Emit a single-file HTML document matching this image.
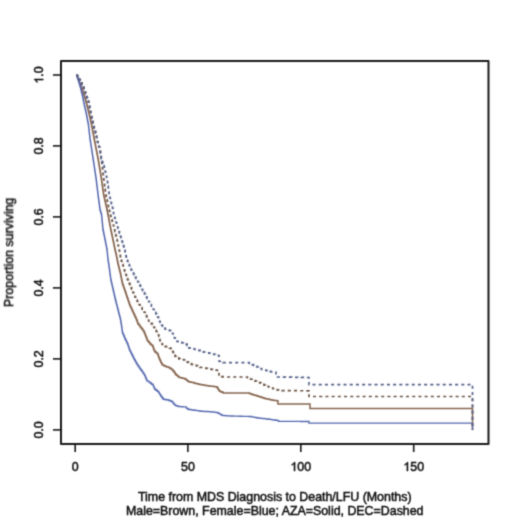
<!DOCTYPE html>
<html><head><meta charset="utf-8"><style>
html,body{margin:0;padding:0;background:#fff;width:520px;height:520px;overflow:hidden}
svg{display:block}
text{font-family:"Liberation Sans",sans-serif;font-size:12.4px;fill:#111;stroke:#111;stroke-width:0.5px}
</style></head><body>
<svg width="520" height="520" viewBox="0 0 520 520">
<defs><filter id="b" x="0" y="0" width="520" height="520" filterUnits="userSpaceOnUse"><feConvolveMatrix order="3" kernelMatrix="1 4 1 4 16 4 1 4 1" divisor="36" edgeMode="none"/></filter></defs>
<rect width="520" height="520" fill="#fff"/>
<g filter="url(#b)">
<path d="M76.50,75.00 L77.05,75.00 L77.05,76.50 L77.60,76.50 L77.60,78.00 L78.15,78.00 L78.15,79.50 L78.70,79.50 L78.70,81.00 L79.20,81.00 L79.20,82.28 L79.70,82.28 L79.70,83.56 L80.20,83.56 L80.20,84.84 L80.70,84.84 L80.70,86.12 L81.20,86.12 L81.20,87.40 L81.75,87.40 L81.75,89.00 L82.30,89.00 L82.30,90.60 L82.85,90.60 L82.85,92.20 L83.40,92.20 L83.40,93.80 L83.95,93.80 L83.95,95.40 L84.50,95.40 L84.50,97.00 L84.96,97.00 L84.96,98.60 L85.42,98.60 L85.42,100.20 L85.88,100.20 L85.88,101.80 L86.34,101.80 L86.34,103.40 L86.80,103.40 L86.80,105.00 L87.16,105.00 L87.16,106.43 L87.51,106.43 L87.51,107.86 L87.87,107.86 L87.87,109.29 L88.23,109.29 L88.23,110.71 L88.59,110.71 L88.59,112.14 L88.94,112.14 L88.94,113.57 L89.30,113.57 L89.30,115.00 L89.61,115.00 L89.61,116.43 L89.93,116.43 L89.93,117.86 L90.24,117.86 L90.24,119.29 L90.56,119.29 L90.56,120.71 L90.87,120.71 L90.87,122.14 L91.19,122.14 L91.19,123.57 L91.50,123.57 L91.50,125.00 L91.78,125.00 L91.78,126.50 L92.06,126.50 L92.06,128.00 L92.34,128.00 L92.34,129.50 L92.62,129.50 L92.62,131.00 L92.90,131.00 L92.90,132.50 L93.18,132.50 L93.18,134.00 L93.46,134.00 L93.46,135.50 L93.74,135.50 L93.74,137.00 L94.02,137.00 L94.02,138.50 L94.30,138.50 L94.30,140.00 L94.60,140.00 L94.60,141.54 L94.90,141.54 L94.90,143.08 L95.20,143.08 L95.20,144.62 L95.50,144.62 L95.50,146.15 L95.80,146.15 L95.80,147.69 L96.10,147.69 L96.10,149.23 L96.40,149.23 L96.40,150.77 L96.70,150.77 L96.70,152.31 L97.00,152.31 L97.00,153.85 L97.30,153.85 L97.30,155.38 L97.60,155.38 L97.60,156.92 L97.90,156.92 L97.90,158.46 L98.20,158.46 L98.20,160.00 L98.45,160.00 L98.45,161.50 L98.70,161.50 L98.70,163.00 L98.95,163.00 L98.95,164.50 L99.20,164.50 L99.20,166.00 L99.45,166.00 L99.45,167.50 L99.70,167.50 L99.70,169.00 L99.95,169.00 L99.95,170.50 L100.20,170.50 L100.20,172.00 L100.45,172.00 L100.45,173.50 L100.70,173.50 L100.70,175.00 L100.90,175.00 L100.90,176.25 L101.10,176.25 L101.10,177.50 L101.30,177.50 L101.30,178.75 L101.50,178.75 L101.50,180.00 L101.71,180.00 L101.71,181.50 L101.92,181.50 L101.92,183.00 L102.13,183.00 L102.13,184.50 L102.34,184.50 L102.34,186.00 L102.55,186.00 L102.55,187.50 L102.76,187.50 L102.76,189.00 L102.97,189.00 L102.97,190.50 L103.18,190.50 L103.18,192.00 L103.39,192.00 L103.39,193.50 L103.60,193.50 L103.60,195.00 L103.94,195.00 L103.94,196.50 L104.28,196.50 L104.28,198.00 L104.62,198.00 L104.62,199.50 L104.96,199.50 L104.96,201.00 L105.30,201.00 L105.30,202.50 L105.64,202.50 L105.64,204.00 L105.98,204.00 L105.98,205.50 L106.32,205.50 L106.32,207.00 L106.66,207.00 L106.66,208.50 L107.00,208.50 L107.00,210.00 L107.25,210.00 L107.25,211.25 L107.50,211.25 L107.50,212.50 L107.75,212.50 L107.75,213.75 L108.00,213.75 L108.00,215.00 L108.28,215.00 L108.28,216.50 L108.56,216.50 L108.56,218.00 L108.84,218.00 L108.84,219.50 L109.12,219.50 L109.12,221.00 L109.40,221.00 L109.40,222.50 L109.68,222.50 L109.68,224.00 L109.96,224.00 L109.96,225.50 L110.24,225.50 L110.24,227.00 L110.52,227.00 L110.52,228.50 L110.80,228.50 L110.80,230.00 L111.12,230.00 L111.12,231.54 L111.45,231.54 L111.45,233.08 L111.77,233.08 L111.77,234.62 L112.09,234.62 L112.09,236.15 L112.42,236.15 L112.42,237.69 L112.74,237.69 L112.74,239.23 L113.06,239.23 L113.06,240.77 L113.38,240.77 L113.38,242.31 L113.71,242.31 L113.71,243.85 L114.03,243.85 L114.03,245.38 L114.35,245.38 L114.35,246.92 L114.68,246.92 L114.68,248.46 L115.00,248.46 L115.00,250.00 L115.30,250.00 L115.30,251.25 L115.60,251.25 L115.60,252.50 L115.90,252.50 L115.90,253.75 L116.20,253.75 L116.20,255.00 L116.47,255.00 L116.47,256.37 L116.74,256.37 L116.74,257.74 L117.01,257.74 L117.01,259.11 L117.29,259.11 L117.29,260.49 L117.56,260.49 L117.56,261.86 L117.83,261.86 L117.83,263.23 L118.10,263.23 L118.10,264.60 L118.50,264.60 L118.50,266.20 L118.90,266.20 L118.90,267.80 L119.30,267.80 L119.30,269.40 L119.70,269.40 L119.70,271.00 L120.10,271.00 L120.10,272.60 L120.50,272.60 L120.50,274.20 L120.77,274.20 L120.77,275.57 L121.04,275.57 L121.04,276.94 L121.31,276.94 L121.31,278.31 L121.59,278.31 L121.59,279.69 L121.86,279.69 L121.86,281.06 L122.13,281.06 L122.13,282.43 L122.40,282.43 L122.40,283.80 L122.89,283.80 L122.89,285.19 L123.37,285.19 L123.37,286.57 L123.86,286.57 L123.86,287.96 L124.34,287.96 L124.34,289.34 L124.83,289.34 L124.83,290.73 L125.31,290.73 L125.31,292.11 L125.80,292.11 L125.80,293.50 L126.27,293.50 L126.27,294.94 L126.75,294.94 L126.75,296.38 L127.22,296.38 L127.22,297.81 L127.70,297.81 L127.70,299.25 L128.17,299.25 L128.17,300.69 L128.65,300.69 L128.65,302.12 L129.12,302.12 L129.12,303.56 L129.60,303.56 L129.60,305.00 L130.29,305.00 L130.29,306.50 L130.98,306.50 L130.98,308.00 L131.67,308.00 L131.67,309.50 L132.36,309.50 L132.36,311.00 L133.05,311.00 L133.05,312.50 L133.74,312.50 L133.74,314.00 L134.43,314.00 L134.43,315.50 L135.12,315.50 L135.12,317.00 L135.81,317.00 L135.81,318.50 L136.50,318.50 L136.50,320.00 L137.00,320.00 L137.00,321.33 L137.50,321.33 L137.50,322.67 L138.00,322.67 L138.00,324.00 L139.00,324.00 L139.00,325.33 L140.00,325.33 L140.00,326.67 L141.00,326.67 L141.00,328.00 L142.00,328.00 L142.00,329.33 L143.00,329.33 L143.00,330.67 L144.00,330.67 L144.00,332.00 L144.50,332.00 L144.50,333.25 L145.00,333.25 L145.00,334.50 L145.50,334.50 L145.50,335.75 L146.00,335.75 L146.00,337.00 L146.50,337.00 L146.50,338.33 L147.00,338.33 L147.00,339.67 L147.50,339.67 L147.50,341.00 L148.75,341.00 L148.75,342.50 L150.00,342.50 L150.00,344.00 L151.25,344.00 L151.25,345.00 L152.50,345.00 L152.50,346.00 L153.00,346.00 L153.00,347.33 L153.50,347.33 L153.50,348.67 L154.00,348.67 L154.00,350.00 L154.50,350.00 L154.50,351.00 L155.00,351.00 L155.00,352.00 L156.25,352.00 L156.25,353.00 L157.50,353.00 L157.50,354.00 L158.00,354.00 L158.00,355.33 L158.50,355.33 L158.50,356.67 L159.00,356.67 L159.00,358.00 L159.50,358.00 L159.50,359.17 L160.00,359.17 L160.00,360.33 L160.50,360.33 L160.50,361.50 L161.10,361.50 L161.10,362.63 L161.70,362.63 L161.70,363.77 L162.30,363.77 L162.30,364.90 L163.85,364.90 L163.85,365.70 L165.40,365.70 L165.40,366.50 L166.95,366.50 L166.95,367.05 L168.50,367.05 L168.50,367.60 L170.00,367.60 L170.00,368.55 L171.50,368.55 L171.50,369.50 L172.85,369.50 L172.85,371.05 L174.20,371.05 L174.20,372.60 L175.20,372.60 L175.20,373.95 L176.20,373.95 L176.20,375.30 L177.70,375.30 L177.70,376.45 L179.20,376.45 L179.20,377.60 L180.73,377.60 L180.73,377.87 L182.27,377.87 L182.27,378.13 L183.80,378.13 L183.80,378.40 L185.15,378.40 L185.15,379.35 L186.50,379.35 L186.50,380.30 L187.50,380.30 L187.50,381.05 L188.50,381.05 L188.50,381.80 L189.77,381.80 L189.77,382.07 L191.03,382.07 L191.03,382.33 L192.30,382.33 L192.30,382.60 L193.83,382.60 L193.83,383.00 L195.37,383.00 L195.37,383.40 L196.90,383.40 L196.90,383.80 L198.45,383.80 L198.45,384.20 L200.00,384.20 L200.00,384.60 L201.45,384.60 L201.45,384.85 L202.90,384.85 L202.90,385.10 L204.35,385.10 L204.35,385.35 L205.80,385.35 L205.80,385.60 L207.33,385.60 L207.33,385.79 L208.86,385.79 L208.86,385.97 L210.39,385.97 L210.39,386.16 L211.91,386.16 L211.91,386.34 L213.44,386.34 L213.44,386.53 L214.97,386.53 L214.97,386.71 L216.50,386.71 L216.50,386.90 L217.40,386.90 L217.40,388.27 L218.30,388.27 L218.30,389.63 L219.20,389.63 L219.20,391.00 L220.57,391.00 L220.57,391.67 L221.93,391.67 L221.93,392.33 L223.30,392.33 L223.30,393.00 L248.00,393.00 L249.33,393.00 L249.33,393.47 L250.67,393.47 L250.67,393.93 L252.00,393.93 L252.00,394.40 L253.43,394.40 L253.43,394.88 L254.85,394.88 L254.85,395.35 L256.27,395.35 L256.27,395.82 L257.70,395.82 L257.70,396.30 L259.24,396.30 L259.24,396.80 L260.78,396.80 L260.78,397.30 L262.32,397.30 L262.32,397.80 L263.86,397.80 L263.86,398.30 L265.40,398.30 L265.40,398.80 L266.92,398.80 L266.92,399.08 L268.44,399.08 L268.44,399.36 L269.96,399.36 L269.96,399.64 L271.48,399.64 L271.48,399.92 L273.00,399.92 L273.00,400.20 L274.23,400.20 L274.23,400.40 L275.45,400.40 L275.45,400.60 L276.67,400.60 L276.67,400.80 L277.90,400.80 L277.90,401.00 L277.90,404.00 L310.00,404.00 L310.00,408.50 L472.50,408.50 L472.50,430.00" fill="none" stroke="#86654f" stroke-width="1.5"/>
<path d="M76.50,75.00 L77.00,75.00 L77.00,76.50 L77.50,76.50 L77.50,78.00 L78.00,78.00 L78.00,79.50 L78.50,79.50 L78.50,81.00 L78.86,81.00 L78.86,82.28 L79.22,82.28 L79.22,83.56 L79.58,83.56 L79.58,84.84 L79.94,84.84 L79.94,86.12 L80.30,86.12 L80.30,87.40 L80.68,87.40 L80.68,89.00 L81.07,89.00 L81.07,90.60 L81.45,90.60 L81.45,92.20 L81.83,92.20 L81.83,93.80 L82.22,93.80 L82.22,95.40 L82.60,95.40 L82.60,97.00 L82.92,97.00 L82.92,98.60 L83.24,98.60 L83.24,100.20 L83.56,100.20 L83.56,101.80 L83.88,101.80 L83.88,103.40 L84.20,103.40 L84.20,105.00 L84.53,105.00 L84.53,106.43 L84.86,106.43 L84.86,107.86 L85.19,107.86 L85.19,109.29 L85.51,109.29 L85.51,110.71 L85.84,110.71 L85.84,112.14 L86.17,112.14 L86.17,113.57 L86.50,113.57 L86.50,115.00 L86.72,115.00 L86.72,116.25 L86.95,116.25 L86.95,117.50 L87.18,117.50 L87.18,118.75 L87.40,118.75 L87.40,120.00 L87.65,120.00 L87.65,121.25 L87.90,121.25 L87.90,122.50 L88.15,122.50 L88.15,123.75 L88.40,123.75 L88.40,125.00 L88.57,125.00 L88.57,126.50 L88.74,126.50 L88.74,128.00 L88.91,128.00 L88.91,129.50 L89.08,129.50 L89.08,131.00 L89.25,131.00 L89.25,132.50 L89.42,132.50 L89.42,134.00 L89.59,134.00 L89.59,135.50 L89.76,135.50 L89.76,137.00 L89.93,137.00 L89.93,138.50 L90.10,138.50 L90.10,140.00 L90.34,140.00 L90.34,141.54 L90.58,141.54 L90.58,143.08 L90.82,143.08 L90.82,144.62 L91.05,144.62 L91.05,146.15 L91.29,146.15 L91.29,147.69 L91.53,147.69 L91.53,149.23 L91.77,149.23 L91.77,150.77 L92.01,150.77 L92.01,152.31 L92.25,152.31 L92.25,153.85 L92.48,153.85 L92.48,155.38 L92.72,155.38 L92.72,156.92 L92.96,156.92 L92.96,158.46 L93.20,158.46 L93.20,160.00 L93.43,160.00 L93.43,161.54 L93.66,161.54 L93.66,163.08 L93.89,163.08 L93.89,164.62 L94.12,164.62 L94.12,166.15 L94.35,166.15 L94.35,167.69 L94.58,167.69 L94.58,169.23 L94.82,169.23 L94.82,170.77 L95.05,170.77 L95.05,172.31 L95.28,172.31 L95.28,173.85 L95.51,173.85 L95.51,175.38 L95.74,175.38 L95.74,176.92 L95.97,176.92 L95.97,178.46 L96.20,178.46 L96.20,180.00 L96.38,180.00 L96.38,181.50 L96.56,181.50 L96.56,183.00 L96.74,183.00 L96.74,184.50 L96.92,184.50 L96.92,186.00 L97.10,186.00 L97.10,187.50 L97.28,187.50 L97.28,189.00 L97.46,189.00 L97.46,190.50 L97.64,190.50 L97.64,192.00 L97.82,192.00 L97.82,193.50 L98.00,193.50 L98.00,195.00 L98.20,195.00 L98.20,196.50 L98.40,196.50 L98.40,198.00 L98.60,198.00 L98.60,199.50 L98.80,199.50 L98.80,201.00 L99.00,201.00 L99.00,202.50 L99.20,202.50 L99.20,204.00 L99.40,204.00 L99.40,205.50 L99.60,205.50 L99.60,207.00 L99.80,207.00 L99.80,208.50 L100.00,208.50 L100.00,210.00 L100.38,210.00 L100.38,211.25 L100.75,211.25 L100.75,212.50 L101.12,212.50 L101.12,213.75 L101.50,213.75 L101.50,215.00 L101.65,215.00 L101.65,216.50 L101.80,216.50 L101.80,218.00 L101.95,218.00 L101.95,219.50 L102.10,219.50 L102.10,221.00 L102.25,221.00 L102.25,222.50 L102.40,222.50 L102.40,224.00 L102.55,224.00 L102.55,225.50 L102.70,225.50 L102.70,227.00 L102.85,227.00 L102.85,228.50 L103.00,228.50 L103.00,230.00 L103.31,230.00 L103.31,231.54 L103.62,231.54 L103.62,233.08 L103.92,233.08 L103.92,234.62 L104.23,234.62 L104.23,236.15 L104.54,236.15 L104.54,237.69 L104.85,237.69 L104.85,239.23 L105.15,239.23 L105.15,240.77 L105.46,240.77 L105.46,242.31 L105.77,242.31 L105.77,243.85 L106.08,243.85 L106.08,245.38 L106.38,245.38 L106.38,246.92 L106.69,246.92 L106.69,248.46 L107.00,248.46 L107.00,250.00 L107.14,250.00 L107.14,251.43 L107.29,251.43 L107.29,252.86 L107.43,252.86 L107.43,254.29 L107.57,254.29 L107.57,255.71 L107.71,255.71 L107.71,257.14 L107.86,257.14 L107.86,258.57 L108.00,258.57 L108.00,260.00 L108.21,260.00 L108.21,261.43 L108.43,261.43 L108.43,262.86 L108.64,262.86 L108.64,264.29 L108.86,264.29 L108.86,265.71 L109.07,265.71 L109.07,267.14 L109.29,267.14 L109.29,268.57 L109.50,268.57 L109.50,270.00 L109.69,270.00 L109.69,271.43 L109.87,271.43 L109.87,272.86 L110.06,272.86 L110.06,274.29 L110.24,274.29 L110.24,275.71 L110.43,275.71 L110.43,277.14 L110.61,277.14 L110.61,278.57 L110.80,278.57 L110.80,280.00 L111.15,280.00 L111.15,281.54 L111.51,281.54 L111.51,283.08 L111.86,283.08 L111.86,284.62 L112.22,284.62 L112.22,286.15 L112.57,286.15 L112.57,287.69 L112.92,287.69 L112.92,289.23 L113.28,289.23 L113.28,290.77 L113.63,290.77 L113.63,292.31 L113.98,292.31 L113.98,293.85 L114.34,293.85 L114.34,295.38 L114.69,295.38 L114.69,296.92 L115.05,296.92 L115.05,298.46 L115.40,298.46 L115.40,300.00 L115.79,300.00 L115.79,301.54 L116.18,301.54 L116.18,303.08 L116.58,303.08 L116.58,304.62 L116.97,304.62 L116.97,306.15 L117.36,306.15 L117.36,307.69 L117.75,307.69 L117.75,309.23 L118.15,309.23 L118.15,310.77 L118.54,310.77 L118.54,312.31 L118.93,312.31 L118.93,313.85 L119.32,313.85 L119.32,315.38 L119.72,315.38 L119.72,316.92 L120.11,316.92 L120.11,318.46 L120.50,318.46 L120.50,320.00 L120.75,320.00 L120.75,321.50 L121.00,321.50 L121.00,323.00 L121.25,323.00 L121.25,324.50 L121.50,324.50 L121.50,326.00 L121.70,326.00 L121.70,327.40 L121.90,327.40 L121.90,328.80 L122.10,328.80 L122.10,330.20 L122.30,330.20 L122.30,331.60 L122.50,331.60 L122.50,333.00 L123.12,333.00 L123.12,334.50 L123.75,334.50 L123.75,336.00 L124.38,336.00 L124.38,337.50 L125.00,337.50 L125.00,339.00 L125.62,339.00 L125.62,340.25 L126.25,340.25 L126.25,341.50 L126.88,341.50 L126.88,342.75 L127.50,342.75 L127.50,344.00 L128.00,344.00 L128.00,345.50 L128.50,345.50 L128.50,347.00 L129.00,347.00 L129.00,348.50 L129.50,348.50 L129.50,350.00 L130.12,350.00 L130.12,351.25 L130.75,351.25 L130.75,352.50 L131.38,352.50 L131.38,353.75 L132.00,353.75 L132.00,355.00 L132.62,355.00 L132.62,356.25 L133.25,356.25 L133.25,357.50 L133.88,357.50 L133.88,358.75 L134.50,358.75 L134.50,360.00 L135.33,360.00 L135.33,361.50 L136.17,361.50 L136.17,363.00 L137.00,363.00 L137.00,364.50 L138.00,364.50 L138.00,366.00 L139.00,366.00 L139.00,367.50 L140.00,367.50 L140.00,369.00 L141.00,369.00 L141.00,370.25 L142.00,370.25 L142.00,371.50 L142.87,371.50 L142.87,372.80 L143.73,372.80 L143.73,374.10 L144.60,374.10 L144.60,375.40 L145.18,375.40 L145.18,376.75 L145.75,376.75 L145.75,378.10 L146.32,378.10 L146.32,379.45 L146.90,379.45 L146.90,380.80 L148.45,380.80 L148.45,381.90 L150.00,381.90 L150.00,383.00 L151.50,383.00 L151.50,384.20 L153.00,384.20 L153.00,385.40 L153.53,385.40 L153.53,386.67 L154.07,386.67 L154.07,387.93 L154.60,387.93 L154.60,389.20 L155.90,389.20 L155.90,390.23 L157.20,390.23 L157.20,391.27 L158.50,391.27 L158.50,392.30 L159.27,392.30 L159.27,393.60 L160.03,393.60 L160.03,394.90 L160.80,394.90 L160.80,396.20 L161.95,396.20 L161.95,397.70 L163.10,397.70 L163.10,399.20 L164.63,399.20 L164.63,399.47 L166.17,399.47 L166.17,399.73 L167.70,399.73 L167.70,400.00 L168.97,400.00 L168.97,400.50 L170.23,400.50 L170.23,401.00 L171.50,401.00 L171.50,401.50 L172.67,401.50 L172.67,402.80 L173.83,402.80 L173.83,404.10 L175.00,404.10 L175.00,405.40 L176.17,405.40 L176.17,405.77 L177.33,405.77 L177.33,406.13 L178.50,406.13 L178.50,406.50 L180.03,406.50 L180.03,406.60 L181.55,406.60 L181.55,406.70 L183.07,406.70 L183.07,406.80 L184.60,406.80 L184.60,406.90 L186.15,406.90 L186.15,408.05 L187.70,408.05 L187.70,409.20 L189.25,409.20 L189.25,409.50 L190.80,409.50 L190.80,409.80 L192.33,409.80 L192.33,410.00 L193.87,410.00 L193.87,410.20 L195.40,410.20 L195.40,410.40 L196.93,410.40 L196.93,410.67 L198.47,410.67 L198.47,410.93 L200.00,410.93 L200.00,411.20 L201.59,411.20 L201.59,411.29 L203.17,411.29 L203.17,411.37 L204.76,411.37 L204.76,411.46 L206.34,411.46 L206.34,411.54 L207.93,411.54 L207.93,411.63 L209.51,411.63 L209.51,411.71 L211.10,411.71 L211.10,411.80 L212.45,411.80 L212.45,411.98 L213.80,411.98 L213.80,412.15 L215.15,412.15 L215.15,412.32 L216.50,412.32 L216.50,412.50 L217.85,412.50 L217.85,413.15 L219.20,413.15 L219.20,413.80 L220.55,413.80 L220.55,414.60 L221.90,414.60 L221.90,415.40 L223.25,415.40 L223.25,415.50 L224.60,415.50 L224.60,415.60 L225.95,415.60 L225.95,415.70 L227.30,415.70 L227.30,415.80 L228.65,415.80 L228.65,415.90 L230.00,415.90 L230.00,416.00 L231.54,416.00 L231.54,416.04 L233.08,416.04 L233.08,416.08 L234.62,416.08 L234.62,416.12 L236.15,416.12 L236.15,416.15 L237.69,416.15 L237.69,416.19 L239.23,416.19 L239.23,416.23 L240.77,416.23 L240.77,416.27 L242.31,416.27 L242.31,416.31 L243.85,416.31 L243.85,416.35 L245.38,416.35 L245.38,416.38 L246.92,416.38 L246.92,416.42 L248.46,416.42 L248.46,416.46 L250.00,416.46 L250.00,416.50 L251.54,416.50 L251.54,416.80 L253.08,416.80 L253.08,417.10 L254.62,417.10 L254.62,417.40 L256.16,417.40 L256.16,417.70 L257.70,417.70 L257.70,418.00 L259.24,418.00 L259.24,418.16 L260.78,418.16 L260.78,418.32 L262.32,418.32 L262.32,418.48 L263.86,418.48 L263.86,418.64 L265.40,418.64 L265.40,418.80 L266.85,418.80 L266.85,419.00 L268.30,419.00 L268.30,419.20 L269.75,419.20 L269.75,419.40 L271.20,419.40 L271.20,419.60 L272.65,419.60 L272.65,419.80 L274.10,419.80 L274.10,420.00 L275.55,420.00 L275.55,420.20 L277.00,420.20 L277.00,420.40 L277.90,420.40 L277.90,420.85 L278.80,420.85 L278.80,421.30 L280.39,421.30 L280.39,421.31 L281.98,421.31 L281.98,421.32 L283.57,421.32 L283.57,421.33 L285.16,421.33 L285.16,421.34 L286.75,421.34 L286.75,421.35 L288.34,421.35 L288.34,421.36 L289.93,421.36 L289.93,421.37 L291.52,421.37 L291.52,421.38 L293.11,421.38 L293.11,421.39 L294.69,421.39 L294.69,421.41 L296.28,421.41 L296.28,421.42 L297.87,421.42 L297.87,421.43 L299.46,421.43 L299.46,421.44 L301.05,421.44 L301.05,421.45 L302.64,421.45 L302.64,421.46 L304.23,421.46 L304.23,421.47 L305.82,421.47 L305.82,421.48 L307.41,421.48 L307.41,421.49 L309.00,421.49 L309.00,421.50 L309.00,423.10 L472.50,423.10 L472.50,430.00" fill="none" stroke="#5468ae" stroke-width="1.35"/>
<path d="M76.50,75.00 L77.25,75.00 L77.25,76.25 L78.00,76.25 L78.00,77.50 L78.75,77.50 L78.75,78.75 L79.50,78.75 L79.50,80.00 L80.30,80.00 L80.30,81.48 L81.10,81.48 L81.10,82.96 L81.90,82.96 L81.90,84.44 L82.70,84.44 L82.70,85.92 L83.50,85.92 L83.50,87.40 L84.02,87.40 L84.02,88.93 L84.53,88.93 L84.53,90.47 L85.05,90.47 L85.05,92.00 L85.57,92.00 L85.57,93.53 L86.08,93.53 L86.08,95.07 L86.60,95.07 L86.60,96.60 L87.03,96.60 L87.03,98.00 L87.47,98.00 L87.47,99.40 L87.90,99.40 L87.90,100.80 L88.33,100.80 L88.33,102.20 L88.77,102.20 L88.77,103.60 L89.20,103.60 L89.20,105.00 L89.46,105.00 L89.46,106.40 L89.72,106.40 L89.72,107.80 L89.98,107.80 L89.98,109.20 L90.24,109.20 L90.24,110.60 L90.50,110.60 L90.50,112.00 L90.84,112.00 L90.84,113.60 L91.18,113.60 L91.18,115.20 L91.52,115.20 L91.52,116.80 L91.86,116.80 L91.86,118.40 L92.20,118.40 L92.20,120.00 L92.50,120.00 L92.50,121.25 L92.80,121.25 L92.80,122.50 L93.10,122.50 L93.10,123.75 L93.40,123.75 L93.40,125.00 L93.82,125.00 L93.82,126.60 L94.24,126.60 L94.24,128.20 L94.66,128.20 L94.66,129.80 L95.08,129.80 L95.08,131.40 L95.50,131.40 L95.50,133.00 L95.83,133.00 L95.83,134.50 L96.17,134.50 L96.17,136.00 L96.50,136.00 L96.50,137.50 L96.83,137.50 L96.83,139.00 L97.17,139.00 L97.17,140.50 L97.50,140.50 L97.50,142.00 L98.00,142.00 L98.00,143.60 L98.50,143.60 L98.50,145.20 L99.00,145.20 L99.00,146.80 L99.50,146.80 L99.50,148.40 L100.00,148.40 L100.00,150.00 L100.21,150.00 L100.21,151.43 L100.43,151.43 L100.43,152.86 L100.64,152.86 L100.64,154.29 L100.86,154.29 L100.86,155.71 L101.07,155.71 L101.07,157.14 L101.29,157.14 L101.29,158.57 L101.50,158.57 L101.50,160.00 L101.67,160.00 L101.67,161.50 L101.84,161.50 L101.84,163.00 L102.01,163.00 L102.01,164.50 L102.18,164.50 L102.18,166.00 L102.35,166.00 L102.35,167.50 L102.52,167.50 L102.52,169.00 L102.69,169.00 L102.69,170.50 L102.86,170.50 L102.86,172.00 L103.03,172.00 L103.03,173.50 L103.20,173.50 L103.20,175.00 L103.35,175.00 L103.35,176.25 L103.50,176.25 L103.50,177.50 L103.65,177.50 L103.65,178.75 L103.80,178.75 L103.80,180.00 L104.00,180.00 L104.00,181.50 L104.20,181.50 L104.20,183.00 L104.40,183.00 L104.40,184.50 L104.60,184.50 L104.60,186.00 L104.80,186.00 L104.80,187.50 L105.00,187.50 L105.00,189.00 L105.20,189.00 L105.20,190.50 L105.40,190.50 L105.40,192.00 L105.60,192.00 L105.60,193.50 L105.80,193.50 L105.80,195.00 L106.14,195.00 L106.14,196.50 L106.48,196.50 L106.48,198.00 L106.82,198.00 L106.82,199.50 L107.16,199.50 L107.16,201.00 L107.50,201.00 L107.50,202.50 L107.84,202.50 L107.84,204.00 L108.18,204.00 L108.18,205.50 L108.52,205.50 L108.52,207.00 L108.86,207.00 L108.86,208.50 L109.20,208.50 L109.20,210.00 L109.47,210.00 L109.47,211.25 L109.75,211.25 L109.75,212.50 L110.03,212.50 L110.03,213.75 L110.30,213.75 L110.30,215.00 L110.73,215.00 L110.73,216.50 L111.16,216.50 L111.16,218.00 L111.59,218.00 L111.59,219.50 L112.02,219.50 L112.02,221.00 L112.45,221.00 L112.45,222.50 L112.88,222.50 L112.88,224.00 L113.31,224.00 L113.31,225.50 L113.74,225.50 L113.74,227.00 L114.17,227.00 L114.17,228.50 L114.60,228.50 L114.60,230.00 L114.95,230.00 L114.95,231.54 L115.31,231.54 L115.31,233.08 L115.66,233.08 L115.66,234.62 L116.02,234.62 L116.02,236.15 L116.37,236.15 L116.37,237.69 L116.72,237.69 L116.72,239.23 L117.08,239.23 L117.08,240.77 L117.43,240.77 L117.43,242.31 L117.78,242.31 L117.78,243.85 L118.14,243.85 L118.14,245.38 L118.49,245.38 L118.49,246.92 L118.85,246.92 L118.85,248.46 L119.20,248.46 L119.20,250.00 L119.46,250.00 L119.46,251.43 L119.71,251.43 L119.71,252.86 L119.97,252.86 L119.97,254.29 L120.23,254.29 L120.23,255.71 L120.49,255.71 L120.49,257.14 L120.74,257.14 L120.74,258.57 L121.00,258.57 L121.00,260.00 L121.47,260.00 L121.47,261.43 L121.94,261.43 L121.94,262.86 L122.41,262.86 L122.41,264.29 L122.89,264.29 L122.89,265.71 L123.36,265.71 L123.36,267.14 L123.83,267.14 L123.83,268.57 L124.30,268.57 L124.30,270.00 L124.79,270.00 L124.79,271.43 L125.27,271.43 L125.27,272.86 L125.76,272.86 L125.76,274.29 L126.24,274.29 L126.24,275.71 L126.73,275.71 L126.73,277.14 L127.21,277.14 L127.21,278.57 L127.70,278.57 L127.70,280.00 L128.35,280.00 L128.35,281.54 L129.01,281.54 L129.01,283.08 L129.66,283.08 L129.66,284.62 L130.32,284.62 L130.32,286.15 L130.97,286.15 L130.97,287.69 L131.62,287.69 L131.62,289.23 L132.28,289.23 L132.28,290.77 L132.93,290.77 L132.93,292.31 L133.58,292.31 L133.58,293.85 L134.24,293.85 L134.24,295.38 L134.89,295.38 L134.89,296.92 L135.55,296.92 L135.55,298.46 L136.20,298.46 L136.20,300.00 L137.15,300.00 L137.15,301.50 L138.10,301.50 L138.10,303.00 L139.05,303.00 L139.05,304.50 L140.00,304.50 L140.00,306.00 L141.03,306.00 L141.03,307.57 L142.07,307.57 L142.07,309.13 L143.10,309.13 L143.10,310.70 L144.13,310.70 L144.13,312.27 L145.17,312.27 L145.17,313.83 L146.20,313.83 L146.20,315.40 L146.63,315.40 L146.63,316.93 L147.07,316.93 L147.07,318.47 L147.50,318.47 L147.50,320.00 L148.70,320.00 L148.70,321.15 L149.90,321.15 L149.90,322.30 L151.10,322.30 L151.10,323.45 L152.30,323.45 L152.30,324.60 L153.08,324.60 L153.08,325.98 L153.86,325.98 L153.86,327.36 L154.64,327.36 L154.64,328.74 L155.42,328.74 L155.42,330.12 L156.20,330.12 L156.20,331.50 L156.97,331.50 L156.97,332.67 L157.73,332.67 L157.73,333.83 L158.50,333.83 L158.50,335.00 L158.85,335.00 L158.85,336.42 L159.20,336.42 L159.20,337.83 L159.55,337.83 L159.55,339.25 L159.90,339.25 L159.90,340.67 L160.25,340.67 L160.25,342.08 L160.60,342.08 L160.60,343.50 L162.07,343.50 L162.07,344.43 L163.53,344.43 L163.53,345.37 L165.00,345.37 L165.00,346.30 L166.47,346.30 L166.47,346.90 L167.93,346.90 L167.93,347.50 L169.40,347.50 L169.40,348.10 L170.95,348.10 L170.95,349.70 L172.50,349.70 L172.50,351.30 L173.12,351.30 L173.12,352.55 L173.75,352.55 L173.75,353.80 L174.38,353.80 L174.38,355.05 L175.00,355.05 L175.00,356.30 L176.27,356.30 L176.27,357.13 L177.53,357.13 L177.53,357.97 L178.80,357.97 L178.80,358.80 L180.05,358.80 L180.05,359.05 L181.30,359.05 L181.30,359.30 L182.55,359.30 L182.55,359.55 L183.80,359.55 L183.80,359.80 L185.35,359.80 L185.35,360.85 L186.90,360.85 L186.90,361.90 L188.37,361.90 L188.37,362.73 L189.83,362.73 L189.83,363.57 L191.30,363.57 L191.30,364.40 L192.55,364.40 L192.55,364.70 L193.80,364.70 L193.80,365.00 L195.05,365.00 L195.05,365.30 L196.30,365.30 L196.30,365.60 L197.53,365.60 L197.53,366.17 L198.77,366.17 L198.77,366.73 L200.00,366.73 L200.00,367.30 L201.25,367.30 L201.25,367.50 L202.50,367.50 L202.50,367.70 L203.75,367.70 L203.75,367.90 L205.00,367.90 L205.00,368.10 L206.25,368.10 L206.25,368.35 L207.50,368.35 L207.50,368.60 L208.75,368.60 L208.75,368.85 L210.00,368.85 L210.00,369.10 L211.25,369.10 L211.25,369.33 L212.50,369.33 L212.50,369.55 L213.75,369.55 L213.75,369.77 L215.00,369.77 L215.00,370.00 L216.17,370.00 L216.17,370.17 L217.33,370.17 L217.33,370.33 L218.50,370.33 L218.50,370.50 L219.00,370.50 L219.00,376.00 L220.33,376.00 L220.33,376.33 L221.67,376.33 L221.67,376.67 L223.00,376.67 L223.00,377.00 L246.00,377.00 L247.50,377.00 L247.50,377.75 L249.00,377.75 L249.00,378.50 L250.50,378.50 L250.50,379.25 L252.00,379.25 L252.00,380.00 L253.52,380.00 L253.52,380.58 L255.04,380.58 L255.04,381.16 L256.56,381.16 L256.56,381.74 L258.08,381.74 L258.08,382.32 L259.60,382.32 L259.60,382.90 L261.05,382.90 L261.05,383.62 L262.50,383.62 L262.50,384.35 L263.95,384.35 L263.95,385.07 L265.40,385.07 L265.40,385.80 L266.92,385.80 L266.92,386.38 L268.44,386.38 L268.44,386.96 L269.96,386.96 L269.96,387.54 L271.48,387.54 L271.48,388.12 L273.00,388.12 L273.00,388.70 L274.45,388.70 L274.45,389.18 L275.90,389.18 L275.90,389.65 L277.35,389.65 L277.35,390.12 L278.80,390.12 L278.80,390.60 L280.39,390.60 L280.39,390.61 L281.98,390.61 L281.98,390.62 L283.57,390.62 L283.57,390.63 L285.16,390.63 L285.16,390.64 L286.75,390.64 L286.75,390.65 L288.34,390.65 L288.34,390.66 L289.93,390.66 L289.93,390.67 L291.52,390.67 L291.52,390.68 L293.11,390.68 L293.11,390.69 L294.69,390.69 L294.69,390.71 L296.28,390.71 L296.28,390.72 L297.87,390.72 L297.87,390.73 L299.46,390.73 L299.46,390.74 L301.05,390.74 L301.05,390.75 L302.64,390.75 L302.64,390.76 L304.23,390.76 L304.23,390.77 L305.82,390.77 L305.82,390.78 L307.41,390.78 L307.41,390.79 L309.00,390.79 L309.00,390.80 L309.00,396.50 L472.50,396.50 L472.50,430.00" fill="none" stroke="#6c5649" stroke-width="1.7" stroke-dasharray="3.05 3.15"/>
<path d="M76.50,75.00 L77.25,75.00 L77.25,76.25 L78.00,76.25 L78.00,77.50 L78.75,77.50 L78.75,78.75 L79.50,78.75 L79.50,80.00 L80.30,80.00 L80.30,81.48 L81.10,81.48 L81.10,82.96 L81.90,82.96 L81.90,84.44 L82.70,84.44 L82.70,85.92 L83.50,85.92 L83.50,87.40 L84.02,87.40 L84.02,88.93 L84.53,88.93 L84.53,90.47 L85.05,90.47 L85.05,92.00 L85.57,92.00 L85.57,93.53 L86.08,93.53 L86.08,95.07 L86.60,95.07 L86.60,96.60 L87.03,96.60 L87.03,98.00 L87.47,98.00 L87.47,99.40 L87.90,99.40 L87.90,100.80 L88.33,100.80 L88.33,102.20 L88.77,102.20 L88.77,103.60 L89.20,103.60 L89.20,105.00 L89.46,105.00 L89.46,106.40 L89.72,106.40 L89.72,107.80 L89.98,107.80 L89.98,109.20 L90.24,109.20 L90.24,110.60 L90.50,110.60 L90.50,112.00 L90.84,112.00 L90.84,113.60 L91.18,113.60 L91.18,115.20 L91.52,115.20 L91.52,116.80 L91.86,116.80 L91.86,118.40 L92.20,118.40 L92.20,120.00 L92.50,120.00 L92.50,121.25 L92.80,121.25 L92.80,122.50 L93.10,122.50 L93.10,123.75 L93.40,123.75 L93.40,125.00 L93.82,125.00 L93.82,126.60 L94.24,126.60 L94.24,128.20 L94.66,128.20 L94.66,129.80 L95.08,129.80 L95.08,131.40 L95.50,131.40 L95.50,133.00 L95.83,133.00 L95.83,134.50 L96.17,134.50 L96.17,136.00 L96.50,136.00 L96.50,137.50 L96.83,137.50 L96.83,139.00 L97.17,139.00 L97.17,140.50 L97.50,140.50 L97.50,142.00 L98.00,142.00 L98.00,143.60 L98.50,143.60 L98.50,145.20 L99.00,145.20 L99.00,146.80 L99.50,146.80 L99.50,148.40 L100.00,148.40 L100.00,150.00 L100.21,150.00 L100.21,151.43 L100.43,151.43 L100.43,152.86 L100.64,152.86 L100.64,154.29 L100.86,154.29 L100.86,155.71 L101.07,155.71 L101.07,157.14 L101.29,157.14 L101.29,158.57 L101.50,158.57 L101.50,160.00 L102.00,160.00 L102.00,161.40 L102.50,161.40 L102.50,162.80 L103.00,162.80 L103.00,164.20 L103.50,164.20 L103.50,165.60 L104.00,165.60 L104.00,167.00 L104.40,167.00 L104.40,168.60 L104.80,168.60 L104.80,170.20 L105.20,170.20 L105.20,171.80 L105.60,171.80 L105.60,173.40 L106.00,173.40 L106.00,175.00 L106.30,175.00 L106.30,176.25 L106.60,176.25 L106.60,177.50 L106.90,177.50 L106.90,178.75 L107.20,178.75 L107.20,180.00 L107.40,180.00 L107.40,181.50 L107.60,181.50 L107.60,183.00 L107.80,183.00 L107.80,184.50 L108.00,184.50 L108.00,186.00 L108.20,186.00 L108.20,187.50 L108.40,187.50 L108.40,189.00 L108.60,189.00 L108.60,190.50 L108.80,190.50 L108.80,192.00 L109.00,192.00 L109.00,193.50 L109.20,193.50 L109.20,195.00 L109.58,195.00 L109.58,196.50 L109.96,196.50 L109.96,198.00 L110.34,198.00 L110.34,199.50 L110.72,199.50 L110.72,201.00 L111.10,201.00 L111.10,202.50 L111.48,202.50 L111.48,204.00 L111.86,204.00 L111.86,205.50 L112.24,205.50 L112.24,207.00 L112.62,207.00 L112.62,208.50 L113.00,208.50 L113.00,210.00 L113.20,210.00 L113.20,211.25 L113.40,211.25 L113.40,212.50 L113.60,212.50 L113.60,213.75 L113.80,213.75 L113.80,215.00 L114.27,215.00 L114.27,216.50 L114.74,216.50 L114.74,218.00 L115.21,218.00 L115.21,219.50 L115.68,219.50 L115.68,221.00 L116.15,221.00 L116.15,222.50 L116.62,222.50 L116.62,224.00 L117.09,224.00 L117.09,225.50 L117.56,225.50 L117.56,227.00 L118.03,227.00 L118.03,228.50 L118.50,228.50 L118.50,230.00 L118.97,230.00 L118.97,231.54 L119.44,231.54 L119.44,233.08 L119.91,233.08 L119.91,234.62 L120.38,234.62 L120.38,236.15 L120.85,236.15 L120.85,237.69 L121.32,237.69 L121.32,239.23 L121.78,239.23 L121.78,240.77 L122.25,240.77 L122.25,242.31 L122.72,242.31 L122.72,243.85 L123.19,243.85 L123.19,245.38 L123.66,245.38 L123.66,246.92 L124.13,246.92 L124.13,248.46 L124.60,248.46 L124.60,250.00 L124.91,250.00 L124.91,251.43 L125.23,251.43 L125.23,252.86 L125.54,252.86 L125.54,254.29 L125.86,254.29 L125.86,255.71 L126.17,255.71 L126.17,257.14 L126.49,257.14 L126.49,258.57 L126.80,258.57 L126.80,260.00 L127.40,260.00 L127.40,261.43 L128.00,261.43 L128.00,262.86 L128.60,262.86 L128.60,264.29 L129.20,264.29 L129.20,265.71 L129.80,265.71 L129.80,267.14 L130.40,267.14 L130.40,268.57 L131.00,268.57 L131.00,270.00 L131.84,270.00 L131.84,271.43 L132.69,271.43 L132.69,272.86 L133.53,272.86 L133.53,274.29 L134.37,274.29 L134.37,275.71 L135.21,275.71 L135.21,277.14 L136.06,277.14 L136.06,278.57 L136.90,278.57 L136.90,280.00 L137.68,280.00 L137.68,281.55 L138.45,281.55 L138.45,283.10 L139.22,283.10 L139.22,284.65 L140.00,284.65 L140.00,286.20 L140.89,286.20 L140.89,287.73 L141.77,287.73 L141.77,289.26 L142.66,289.26 L142.66,290.79 L143.54,290.79 L143.54,292.31 L144.43,292.31 L144.43,293.84 L145.31,293.84 L145.31,295.37 L146.20,295.37 L146.20,296.90 L146.95,296.90 L146.95,298.45 L147.70,298.45 L147.70,300.00 L148.62,300.00 L148.62,301.54 L149.54,301.54 L149.54,303.08 L150.46,303.08 L150.46,304.62 L151.38,304.62 L151.38,306.16 L152.30,306.16 L152.30,307.70 L153.19,307.70 L153.19,309.24 L154.07,309.24 L154.07,310.79 L154.96,310.79 L154.96,312.33 L155.84,312.33 L155.84,313.87 L156.73,313.87 L156.73,315.41 L157.61,315.41 L157.61,316.96 L158.50,316.96 L158.50,318.50 L159.00,318.50 L159.00,320.00 L159.57,320.00 L159.57,321.25 L160.15,321.25 L160.15,322.50 L160.73,322.50 L160.73,323.75 L161.30,323.75 L161.30,325.00 L162.53,325.00 L162.53,326.40 L163.77,326.40 L163.77,327.80 L165.00,327.80 L165.00,329.20 L166.47,329.20 L166.47,329.67 L167.93,329.67 L167.93,330.13 L169.40,330.13 L169.40,330.60 L170.95,330.60 L170.95,332.05 L172.50,332.05 L172.50,333.50 L173.13,333.50 L173.13,335.00 L173.77,335.00 L173.77,336.50 L174.40,336.50 L174.40,338.00 L175.23,338.00 L175.23,339.10 L176.07,339.10 L176.07,340.20 L176.90,340.20 L176.90,341.30 L178.15,341.30 L178.15,341.68 L179.40,341.68 L179.40,342.05 L180.65,342.05 L180.65,342.43 L181.90,342.43 L181.90,342.80 L183.37,342.80 L183.37,343.33 L184.83,343.33 L184.83,343.87 L186.30,343.87 L186.30,344.40 L187.13,344.40 L187.13,345.53 L187.97,345.53 L187.97,346.67 L188.80,346.67 L188.80,347.80 L190.05,347.80 L190.05,348.10 L191.30,348.10 L191.30,348.40 L192.55,348.40 L192.55,348.70 L193.80,348.70 L193.80,349.00 L195.05,349.00 L195.05,349.32 L196.30,349.32 L196.30,349.65 L197.55,349.65 L197.55,349.98 L198.80,349.98 L198.80,350.30 L200.23,350.30 L200.23,350.83 L201.67,350.83 L201.67,351.37 L203.10,351.37 L203.10,351.90 L204.53,351.90 L204.53,352.20 L205.95,352.20 L205.95,352.50 L207.38,352.50 L207.38,352.80 L208.80,352.80 L208.80,353.10 L210.05,353.10 L210.05,353.43 L211.30,353.43 L211.30,353.75 L212.55,353.75 L212.55,354.07 L213.80,354.07 L213.80,354.40 L215.37,354.40 L215.37,354.93 L216.93,354.93 L216.93,355.47 L218.50,355.47 L218.50,356.00 L219.20,356.00 L219.20,361.50 L220.47,361.50 L220.47,361.90 L221.73,361.90 L221.73,362.30 L223.00,362.30 L223.00,362.70 L248.00,362.70 L249.33,362.70 L249.33,363.33 L250.67,363.33 L250.67,363.97 L252.00,363.97 L252.00,364.60 L253.58,364.60 L253.58,365.40 L255.17,365.40 L255.17,366.20 L256.75,366.20 L256.75,367.00 L258.33,367.00 L258.33,367.80 L259.92,367.80 L259.92,368.60 L261.50,368.60 L261.50,369.40 L262.94,369.40 L262.94,369.76 L264.38,369.76 L264.38,370.12 L265.81,370.12 L265.81,370.49 L267.25,370.49 L267.25,370.85 L268.69,370.85 L268.69,371.21 L270.12,371.21 L270.12,371.57 L271.56,371.57 L271.56,371.94 L273.00,371.94 L273.00,372.30 L276.00,372.30 L276.00,377.00 L277.57,377.00 L277.57,377.02 L279.14,377.02 L279.14,377.05 L280.71,377.05 L280.71,377.07 L282.29,377.07 L282.29,377.10 L283.86,377.10 L283.86,377.12 L285.43,377.12 L285.43,377.14 L287.00,377.14 L287.00,377.17 L288.57,377.17 L288.57,377.19 L290.14,377.19 L290.14,377.21 L291.71,377.21 L291.71,377.24 L293.29,377.24 L293.29,377.26 L294.86,377.26 L294.86,377.29 L296.43,377.29 L296.43,377.31 L298.00,377.31 L298.00,377.33 L299.57,377.33 L299.57,377.36 L301.14,377.36 L301.14,377.38 L302.71,377.38 L302.71,377.40 L304.29,377.40 L304.29,377.43 L305.86,377.43 L305.86,377.45 L307.43,377.45 L307.43,377.48 L309.00,377.48 L309.00,377.50 L309.00,384.60 L472.50,384.60 L472.50,430.00" fill="none" stroke="#56628a" stroke-width="1.7" stroke-dasharray="3.05 3.15"/>
<rect x="61" y="61" width="427.5" height="383" fill="none" stroke="#1a1a1a" stroke-width="2" stroke-linejoin="round"/>
<line x1="75.2" y1="444" x2="75.2" y2="452" stroke="#1a1a1a" stroke-width="1.6"/>
<line x1="187.9" y1="444" x2="187.9" y2="452" stroke="#1a1a1a" stroke-width="1.6"/>
<line x1="300.8" y1="444" x2="300.8" y2="452" stroke="#1a1a1a" stroke-width="1.6"/>
<line x1="413.7" y1="444" x2="413.7" y2="452" stroke="#1a1a1a" stroke-width="1.6"/>
<line x1="53" y1="429.9" x2="61" y2="429.9" stroke="#1a1a1a" stroke-width="1.6"/>
<line x1="53" y1="358.9" x2="61" y2="358.9" stroke="#1a1a1a" stroke-width="1.6"/>
<line x1="53" y1="287.9" x2="61" y2="287.9" stroke="#1a1a1a" stroke-width="1.6"/>
<line x1="53" y1="216.9" x2="61" y2="216.9" stroke="#1a1a1a" stroke-width="1.6"/>
<line x1="53" y1="145.9" x2="61" y2="145.9" stroke="#1a1a1a" stroke-width="1.6"/>
<line x1="53" y1="75.0" x2="61" y2="75.0" stroke="#1a1a1a" stroke-width="1.6"/>
<text x="75.2" y="471" text-anchor="middle">0</text>
<text x="187.9" y="471" text-anchor="middle">50</text>
<path d="M763 0H583V1147Q518 1085 412.5 1023T223 930V1104Q374 1175 487 1267T647 1466H763V0Z" transform="translate(290.46,471) scale(0.006055,-0.006055)" fill="#111" stroke="#111" stroke-width="0.5" vector-effect="non-scaling-stroke"/>
<text x="297.35" y="471">00</text>
<path d="M763 0H583V1147Q518 1085 412.5 1023T223 930V1104Q374 1175 487 1267T647 1466H763V0Z" transform="translate(403.36,471) scale(0.006055,-0.006055)" fill="#111" stroke="#111" stroke-width="0.5" vector-effect="non-scaling-stroke"/>
<text x="410.25" y="471">50</text>
<text transform="translate(43.2,429.9) rotate(-90)" text-anchor="middle">0.0</text>
<text transform="translate(43.2,358.9) rotate(-90)" text-anchor="middle">0.2</text>
<text transform="translate(43.2,287.9) rotate(-90)" text-anchor="middle">0.4</text>
<text transform="translate(43.2,216.9) rotate(-90)" text-anchor="middle">0.6</text>
<text transform="translate(43.2,145.9) rotate(-90)" text-anchor="middle">0.8</text>
<g transform="translate(43.2,75.0) rotate(-90)"><path d="M763 0H583V1147Q518 1085 412.5 1023T223 930V1104Q374 1175 487 1267T647 1466H763V0Z" transform="translate(-8.62,0) scale(0.006055,-0.006055)" fill="#111" stroke="#111" stroke-width="0.5" vector-effect="non-scaling-stroke"/><text x="-1.72" y="0">.0</text></g>
<text transform="translate(13.1,252.4) rotate(-90)" text-anchor="middle">Proportion surviving</text>
<text x="274.75" y="500.6" text-anchor="middle">Time from MDS Diagnosis to Death/LFU (Months)</text>
<text x="274.75" y="515" text-anchor="middle">Male=Brown, Female=Blue; AZA=Solid, DEC=Dashed</text>
</g>
</svg>
</body></html>
